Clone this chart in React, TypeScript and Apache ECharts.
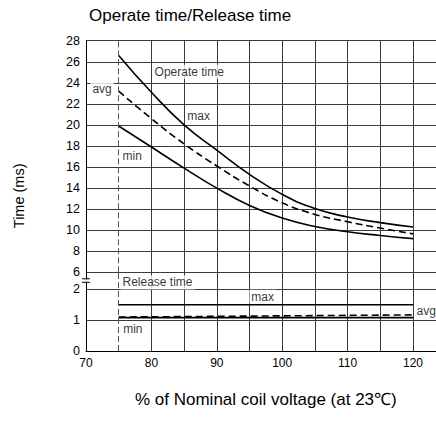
import React, { useEffect, useRef } from "react";
import * as echarts from "echarts";

// ---- data ----
const voltage = [75, 80, 85, 90, 95, 100, 105, 110, 115, 120];
const operateMax = [26.6, 23.1, 20.0, 17.6, 15.3, 13.4, 12.05, 11.25, 10.72, 10.3];
const operateAvg = [23.2, 20.6, 18.2, 16.1, 14.2, 12.6, 11.5, 10.8, 10.2, 9.65];
const operateMin = [19.9, 17.9, 15.9, 14.0, 12.35, 11.15, 10.35, 9.85, 9.5, 9.2];

const releaseVoltage = [75, 120];
const releaseMax = [1.5, 1.5];
const releaseAvg = [1.1, 1.17];
const releaseMin = [1.08, 1.08];

const xMin = 70;
const xMax = 125;
const xStep = 5;
const xLabelStep = 10;
const xLastLabel = 120;
const operateRange = [6, 28];
const operateStep = 2;
const releaseRange = [0, 2.55];
const releaseStep = 1;
const nominalStart = 75;

// annotation anchors in data units [voltage, time]
const operateNotes: [string, number, number][] = [
  ["Operate time", 80.1, 25.05],
  ["max", 85.1, 20.85],
  ["avg", 70.6, 23.44],
  ["min", 75.2, 17.05],
];
const releaseNotes: [string, number, number][] = [
  ["Release time", 75.2, 2.22],
  ["max", 94.9, 1.76],
  ["avg", 120.15, 1.29],
  ["min", 75.3, 0.71],
];

const FONT = "'Liberation Sans', Arial, Helvetica, sans-serif";
const GRID_COLOR = "#3a3a3a";

export default function App() {
  const ref = useRef<HTMLDivElement>(null);

  useEffect(() => {
    if (!ref.current) return;
    const chart = echarts.init(ref.current, undefined, { renderer: "svg" });

    const nTicks = Math.round((xMax - xMin) / xStep) + 1;
    const xSplitColors: string[] = [];
    for (let i = 0; i < nTicks; i++) {
      const v = xMin + i * xStep;
      xSplitColors.push(v === nominalStart ? "rgba(0,0,0,0)" : GRID_COLOR);
    }

    const xAxisBase = {
      type: "value" as const,
      min: xMin,
      max: xMax,
      interval: xStep,
      axisTick: { show: false },
      splitLine: { show: true, lineStyle: { color: xSplitColors, width: 1 } },
    };

    const lineBase = {
      type: "line" as const,
      symbol: "none",
      smooth: 0.5,
      silent: true,
    };

    const dashedMark = {
      silent: true,
      symbol: ["none", "none"],
      label: { show: false },
      lineStyle: { type: [6, 3], color: "#555", width: 1 },
      data: [{ xAxis: nominalStart }],
    };

    const noteLabel = {
      show: true,
      position: "right" as const,
      distance: 0,
      formatter: (p: any) => p.data[2],
      fontFamily: FONT,
      fontSize: 12,
      color: "#000",
      backgroundColor: "#fff",
      padding: [1, 2, 1, 2],
    };

    chart.setOption({
      animation: false,
      textStyle: { fontFamily: FONT },
      title: {
        text: "Operate time/Release time",
        left: 84,
        top: 2,
        textStyle: { fontFamily: FONT, fontSize: 17, fontWeight: "normal", color: "#000" },
      },
      grid: [
        { left: 86, width: 359.7, top: 40.7, height: 231.6, outerBoundsMode: "none", containLabel: false },
        { left: 86, width: 359.7, top: 272.3, height: 78.7, outerBoundsMode: "none", containLabel: false },
      ],
      xAxis: [
        {
          ...xAxisBase,
          gridIndex: 0,
          axisLine: { show: false },
          axisLabel: { show: false },
        },
        {
          ...xAxisBase,
          gridIndex: 1,
          axisLine: { show: true, lineStyle: { color: "#000", width: 1 } },
          axisLabel: {
            show: true,
            color: "#000",
            fontFamily: FONT,
            fontSize: 12,
            margin: 6,
            formatter: (v: number) => (v % xLabelStep === 0 && v <= xLastLabel ? String(v) : ""),
          },
          name: "% of Nominal coil voltage (at 23℃)",
          nameLocation: "middle",
          nameGap: 40,
          nameTextStyle: { fontFamily: FONT, fontSize: 17, color: "#000" },
        },
      ],
      yAxis: [
        {
          type: "value",
          gridIndex: 0,
          min: operateRange[0],
          max: operateRange[1],
          interval: operateStep,
          axisLine: { show: true, lineStyle: { color: "#000", width: 1 } },
          axisTick: { show: false },
          axisLabel: { color: "#000", fontFamily: FONT, fontSize: 12.5, margin: 6 },
          splitLine: { show: true, lineStyle: { color: GRID_COLOR, width: 1 } },
        },
        {
          type: "value",
          gridIndex: 1,
          min: releaseRange[0],
          max: releaseRange[1],
          interval: releaseStep,
          axisLine: { show: true, lineStyle: { color: "#000", width: 1 } },
          axisTick: { show: false },
          axisLabel: {
            color: "#000",
            fontFamily: FONT,
            fontSize: 12.5,
            margin: 6,
            formatter: (v: number) => (Number.isInteger(v) ? String(v) : ""),
          },
          splitLine: { show: true, lineStyle: { color: GRID_COLOR, width: 1 } },
        },
      ],
      series: [
        {
          ...lineBase,
          name: "Operate max",
          xAxisIndex: 0,
          yAxisIndex: 0,
          data: voltage.map((v, i) => [v, operateMax[i]]),
          lineStyle: { color: "#000", width: 1.6 },
          markLine: dashedMark,
        },
        {
          ...lineBase,
          name: "Operate avg",
          xAxisIndex: 0,
          yAxisIndex: 0,
          data: voltage.map((v, i) => [v, operateAvg[i]]),
          lineStyle: { color: "#000", width: 1.6, type: [7, 4] },
        },
        {
          ...lineBase,
          name: "Operate min",
          xAxisIndex: 0,
          yAxisIndex: 0,
          data: voltage.map((v, i) => [v, operateMin[i]]),
          lineStyle: { color: "#000", width: 1.6 },
        },
        {
          ...lineBase,
          smooth: false,
          name: "Release max",
          xAxisIndex: 1,
          yAxisIndex: 1,
          data: releaseVoltage.map((v, i) => [v, releaseMax[i]]),
          lineStyle: { color: "#000", width: 1.6 },
          markLine: dashedMark,
        },
        {
          ...lineBase,
          smooth: false,
          name: "Release avg",
          xAxisIndex: 1,
          yAxisIndex: 1,
          data: releaseVoltage.map((v, i) => [v, releaseAvg[i]]),
          lineStyle: { color: "#000", width: 1.6, type: [7, 4] },
        },
        {
          ...lineBase,
          smooth: false,
          name: "Release min",
          xAxisIndex: 1,
          yAxisIndex: 1,
          data: releaseVoltage.map((v, i) => [v, releaseMin[i]]),
          lineStyle: { color: "#000", width: 1.6 },
        },
        {
          type: "scatter",
          name: "operate notes",
          xAxisIndex: 0,
          yAxisIndex: 0,
          symbolSize: 1,
          itemStyle: { color: "rgba(0,0,0,0)" },
          silent: true,
          z: 5,
          label: noteLabel,
          data: operateNotes.map((n) => [n[1], n[2], n[0]]),
        },
        {
          type: "scatter",
          name: "release notes",
          xAxisIndex: 1,
          yAxisIndex: 1,
          symbolSize: 1,
          itemStyle: { color: "rgba(0,0,0,0)" },
          silent: true,
          z: 5,
          label: noteLabel,
          data: releaseNotes.map((n) => [n[1], n[2], n[0]]),
        },
      ],
    });

    // decorations: y-axis title and axis-break mark
    const p6 = chart.convertToPixel({ xAxisIndex: 0, yAxisIndex: 0 }, [xMin, operateRange[0]]) as number[];
    const p2 = chart.convertToPixel({ xAxisIndex: 1, yAxisIndex: 1 }, [xMin, 2]) as number[];
    const p0 = chart.convertToPixel({ xAxisIndex: 1, yAxisIndex: 1 }, [xMin, 0]) as number[];
    const pTop = chart.convertToPixel({ xAxisIndex: 0, yAxisIndex: 0 }, [xMin, operateRange[1]]) as number[];
    const ax = p6[0];
    const mid = (p6[1] + p2[1]) / 2;
    chart.setOption({
      graphic: [
        {
          type: "text",
          x: 19,
          y: (pTop[1] + p0[1]) / 2,
          rotation: Math.PI / 2,
          style: {
            text: "Time (ms)",
            fontFamily: FONT,
            fontSize: 14.5,
            fill: "#000",
            align: "center",
            verticalAlign: "middle",
          },
        },
        {
          type: "rect",
          shape: { x: ax - 2, y: mid - 1.5, width: 4, height: 2.5 },
          style: { fill: "#fff" },
          z: 10,
        },
        {
          type: "line",
          shape: { x1: ax - 4, y1: mid - 2, x2: ax + 4, y2: mid - 2 },
          style: { stroke: "#000", lineWidth: 1 },
          z: 11,
        },
        {
          type: "line",
          shape: { x1: ax - 4, y1: mid + 1.5, x2: ax + 4, y2: mid + 1.5 },
          style: { stroke: "#000", lineWidth: 1 },
          z: 11,
        },
      ],
    });

    return () => {
      chart.dispose();
    };
  }, []);

  return (
    <div
      ref={ref}
      style={{ position: "fixed", left: 0, top: 0, width: 436, height: 423, background: "#fff" }}
    />
  );
}
